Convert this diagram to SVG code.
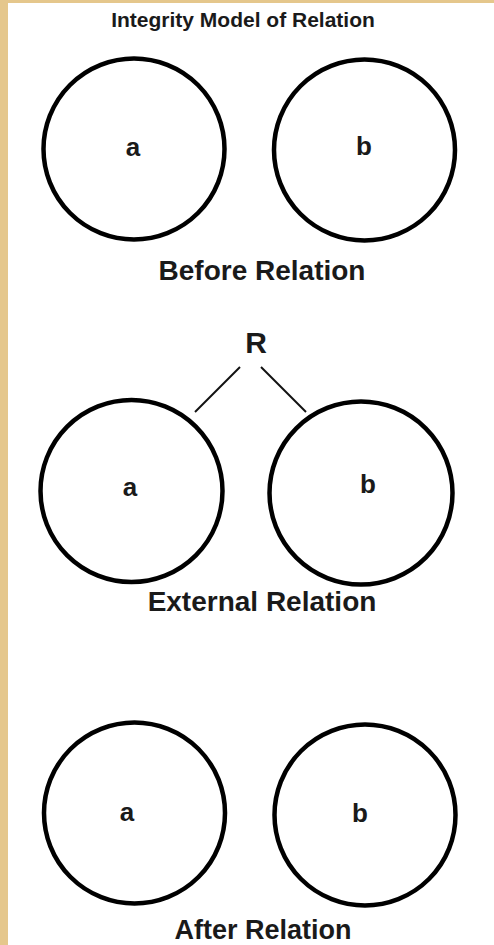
<svg xmlns="http://www.w3.org/2000/svg" width="494" height="945" viewBox="0 0 494 945">
<style>
.node circle{fill:none;stroke:#000;stroke-width:4.5}
.lbl{font-family:"Liberation Sans",Arial,sans-serif;font-weight:bold;fill:#1a1a1a;text-anchor:middle}
.conn line{stroke:#111;stroke-width:2}
</style>
<rect x="0" y="0" width="494" height="945" fill="#e5c78c"/>
<rect x="8" y="3" width="486" height="942" fill="#ffffff"/>
<text class="lbl" x="243" y="27" font-size="21">Integrity Model of Relation</text>
<g id="a1" class="node"><circle cx="134" cy="149" r="90.5"/><text class="lbl" x="133" y="156" font-size="26">a</text></g>
<g id="b1" class="node"><circle cx="364.5" cy="150" r="90.5"/><text class="lbl" x="364" y="155" font-size="26">b</text></g>
<text class="lbl" x="262" y="280" font-size="28">Before Relation</text>
<text class="lbl" x="256" y="353" font-size="30">R</text>
<g class="conn"><line x1="240" y1="367" x2="195" y2="412"/><line x1="261" y1="367" x2="306" y2="412"/></g>
<g id="a2" class="node"><circle cx="131.5" cy="491" r="91"/><text class="lbl" x="130" y="496" font-size="26">a</text></g>
<g id="b2" class="node"><circle cx="361" cy="493" r="91.5"/><text class="lbl" x="368" y="493" font-size="26">b</text></g>
<text class="lbl" x="262" y="611" font-size="28">External Relation</text>
<g id="a3" class="node"><circle cx="134.5" cy="813" r="90.5"/><text class="lbl" x="127" y="821" font-size="26">a</text></g>
<g id="b3" class="node"><circle cx="365" cy="815" r="90.5"/><text class="lbl" x="360" y="822" font-size="26">b</text></g>
<text class="lbl" x="263" y="939" font-size="27">After Relation</text>
</svg>
